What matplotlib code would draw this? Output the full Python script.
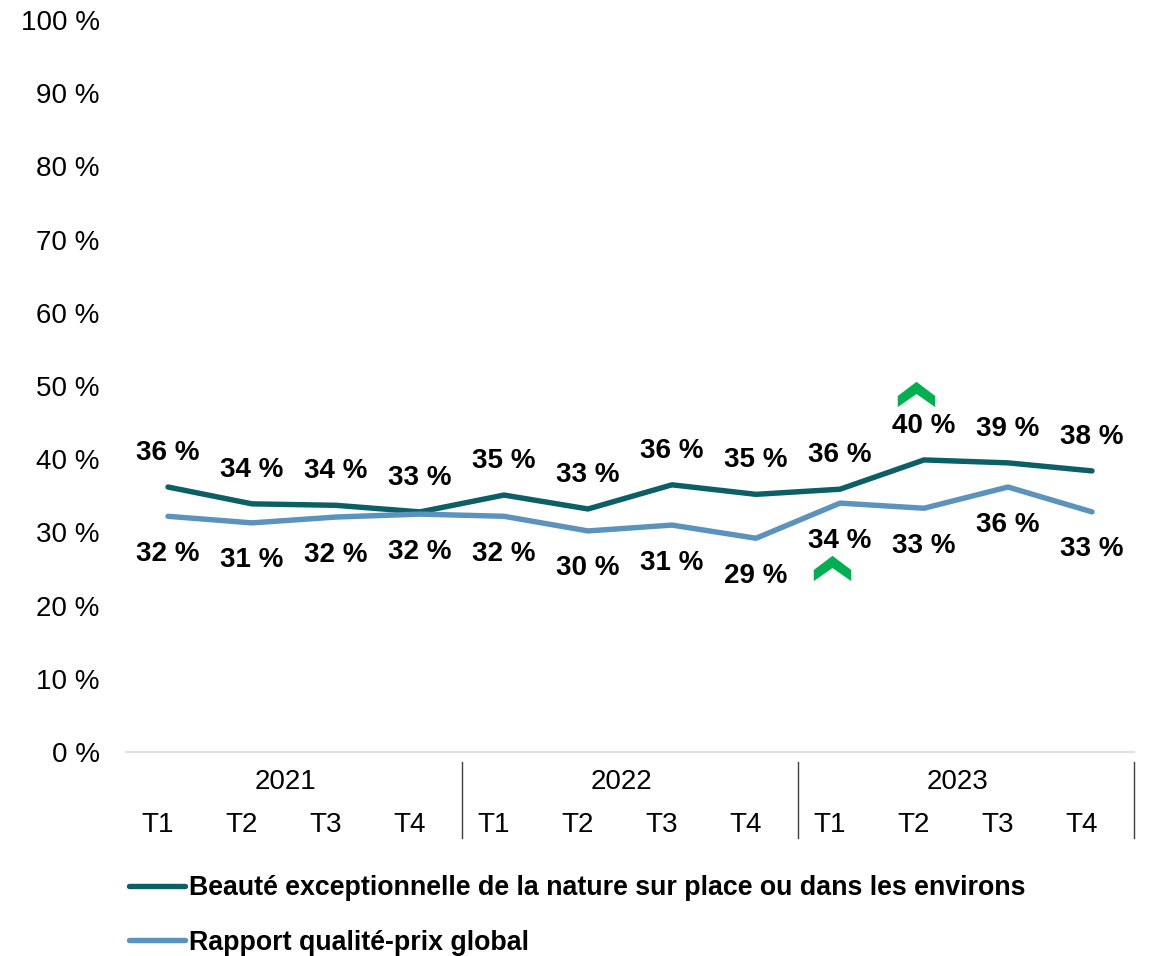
import matplotlib
matplotlib.use("Agg")
import matplotlib.pyplot as plt
from matplotlib.path import Path
from matplotlib.transforms import offset_copy, blended_transform_factory

plt.rcParams['font.family'] = ['Liberation Sans', 'DejaVu Sans']

years = ["2021", "2022", "2023"]
quarters = ["T1", "T2", "T3", "T4"]
nature = [36.2, 33.9, 33.7, 32.8, 35.1, 33.2, 36.5, 35.2, 35.9, 39.9, 39.5, 38.4]
nature_labels = ["36 %", "34 %", "34 %", "33 %", "35 %", "33 %", "36 %", "35 %", "36 %", "40 %", "39 %", "38 %"]
value = [32.2, 31.3, 32.1, 32.5, 32.2, 30.2, 31.0, 29.2, 34.0, 33.3, 36.2, 32.8]
value_labels = ["32 %", "31 %", "32 %", "32 %", "32 %", "30 %", "31 %", "29 %", "34 %", "33 %", "36 %", "33 %"]
series_names = ["Beauté exceptionnelle de la nature sur place ou dans les environs",
                "Rapport qualité-prix global"]
yticks = list(range(0, 101, 10))

c_dark = "#0C5F66"
c_light = "#5B93BC"
c_green = "#00B050"

FS = 20

W, H = 1153, 956
fig = plt.figure(figsize=(W / 100, H / 100), dpi=100)
ax = fig.add_axes([126 / W, 1 - 752 / H, (1134 - 126) / W, (752 - 20) / H])

n = len(nature)
x = list(range(n))
l1, = ax.plot(x, nature, color=c_dark, lw=3.9, solid_joinstyle='round', solid_capstyle='round',
              label=series_names[0])
l2, = ax.plot(x, value, color=c_light, lw=3.9, solid_joinstyle='round', solid_capstyle='round',
              label=series_names[1])

for xi, v, t in zip(x, nature, nature_labels):
    ax.annotate(t, (xi, v), xytext=(0, 24.5), textcoords='offset points', ha='center', va='center',
                fontsize=FS, fontweight='bold', color='black')
for xi, v, t in zip(x, value, value_labels):
    ax.annotate(t, (xi, v), xytext=(0, -27), textcoords='offset points', ha='center', va='center',
                fontsize=FS, fontweight='bold', color='black')

# green up chevrons
chev = Path([(0, 12.5), (18.5, -1.5), (18.5, -12.5), (0, 0.5), (-18.5, -12.5), (-18.5, -1.5), (0, 12.5)],
            [Path.MOVETO, Path.LINETO, Path.LINETO, Path.LINETO, Path.LINETO, Path.LINETO, Path.CLOSEPOLY])
tr_up = offset_copy(ax.transData, fig=fig, x=-8, y=66, units='dots')
ax.plot([9], [nature[9]], marker=chev, ms=27, color=c_green, mec=c_green, mew=0, transform=tr_up,
        clip_on=False, ls='none')
tr_dn = offset_copy(ax.transData, fig=fig, x=-8, y=-65, units='dots')
ax.plot([8], [value[8]], marker=chev, ms=27, color=c_green, mec=c_green, mew=0, transform=tr_dn,
        clip_on=False, ls='none')

ax.set_xlim(-0.5, n - 0.5)
ax.set_ylim(0, 100)
ax.set_yticks(yticks)
ax.set_yticklabels([f"{v} %" for v in yticks], fontsize=FS)
ax.tick_params(axis='y', length=0, pad=19)
ax.set_xticks([])
for s in ['left', 'right', 'top']:
    ax.spines[s].set_visible(False)
ax.spines['bottom'].set_color('#D9D9D9')
ax.spines['bottom'].set_linewidth(1.2)

# multi-level category axis
bt = blended_transform_factory(ax.transData, ax.transAxes)
for i in range(n):
    ax.text(i - 0.12, -0.1, quarters[i % 4], transform=bt, ha='center', va='center', fontsize=FS)
for j, yr in enumerate(years):
    ax.text(j * 4 + 1.4, -0.041, yr, transform=bt, ha='center', va='center', fontsize=FS)
for j in range(len(years)):
    xs = j * 4 + 3.5
    ax.plot([xs, xs], [-0.0137, -0.1175], transform=bt, color='#404040', lw=1.0, clip_on=False)

leg = fig.legend(handles=[l1, l2], loc='upper left', bbox_to_anchor=(129 / W, 1 - 875 / H),
                 frameon=False, prop={'weight': 'bold', 'size': 19.25},
                 handlelength=2.1, handletextpad=0.15, labelspacing=1.07, borderpad=0, borderaxespad=0)

fig.savefig("out.png", dpi=100)
